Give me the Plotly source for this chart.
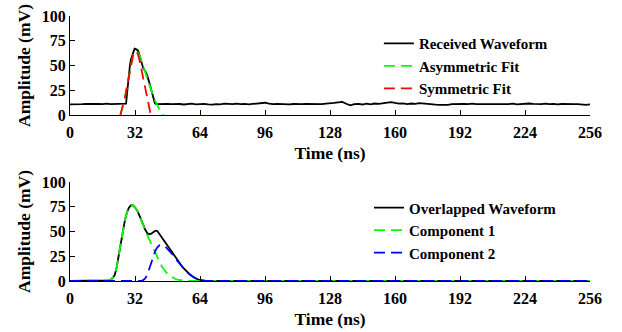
import plotly.graph_objects as go

# ---------------- Top panel data ----------------
recv_t = ([0, 2, 4, 6, 8, 10, 12, 14, 16, 18, 20, 22, 24, 26] +
          [27, 27.6, 28, 28.5, 29, 29.5, 30, 31, 31.8, 32.5, 33.5, 34, 35, 36, 37, 38, 39, 40, 41, 41.8, 42.5] +
          list(range(44, 257, 2)))
recv_v = ([10.8, 10.6, 11.0, 10.9, 11.3, 11.0, 10.7, 11.1, 11.0, 11.4, 10.9, 11.0, 11.2, 10.9] +
          [11.0, 11.5, 20, 33, 44, 50, 56, 62, 67, 66.5, 65, 62, 54, 47.5, 44.5, 40, 33, 25.5, 18, 11.8, 11.0] +
          [11.2, 10.9, 11.3, 11.0, 11.4, 11.1, 10.6, 11.2, 11.5, 10.8, 11.0, 11.3, 10.7, 10.4, 11.0, 10.8,
           11.4, 11.1, 10.9, 11.5, 11.0, 11.3, 10.8, 11.2, 11.6, 11.4, 12.4, 11.5, 11.0, 11.3, 10.9, 11.2,
           10.8, 11.1, 10.7, 10.9, 11.2, 11.0, 10.9, 11.1, 11.0, 11.4, 11.6, 12.2, 12.8, 13.2, 11.4, 9.8,
           10.9, 11.2, 10.6, 11.4, 10.8, 11.6, 11.3, 12.1, 12.4, 13.0, 12.2, 11.5, 11.8, 11.0, 11.6, 11.2,
           11.9, 11.4, 11.0, 10.8, 10.4, 10.2, 10.0, 10.3, 11.0, 11.2, 11.6, 11.3, 10.9, 11.4, 11.0, 11.1,
           10.8, 11.0, 11.2, 11.0, 11.3, 11.0, 10.9, 11.4, 10.8, 11.1, 11.0, 11.6, 11.2, 11.0, 10.9, 11.5,
           11.0, 11.3, 10.7, 11.1, 10.8, 11.2, 10.9, 11.0, 10.5, 10.3, 10.8])

asym_t = [24.8, 26, 27, 28, 29, 30, 31, 32, 33, 34, 35, 36, 37, 38, 39, 40, 41, 42, 43, 44, 45, 46]
asym_v = [0, 8.5, 17, 28, 40, 51.5, 60, 64.5, 64, 61, 56, 50, 43.5, 37, 30.5, 24.5, 19, 14, 9.5, 5.5, 2.5, 0]

sym_t = [24.8, 26, 27, 28, 29, 30, 31, 32, 33, 34, 35, 36, 37, 38, 39, 39.8]
sym_v = [0, 8.5, 17, 28, 40, 51.5, 60, 64.5, 63.5, 57.5, 47.5, 36, 24.5, 14.5, 6, 0]

# ---------------- Bottom panel data ----------------
bot_t = [0, 8] + list(range(16, 69)) + [80, 128, 192, 256]
overlap_v = [0, 0,
             0, 0.1, 0.2, 0.6, 1.3, 3, 6, 14, 26, 38, 50, 61, 69, 74, 76.5, 76.3, 74.5, 71.5, 67, 61.5,
             56.5, 52, 48.5, 47.2, 47.8, 49.5, 50.8, 50.5, 47.5, 44, 41, 38.5, 36, 33, 29.8, 26.8, 23.8,
             20.8, 18, 15.2, 12.7, 10.4, 8.4, 6.6, 5, 3.6, 2.5, 1.6, 1, 0.5, 0.3, 0.1, 0,
             0, 0, 0, 0]
comp1_v = [0, 0,
           0, 0.1, 0.2, 0.6, 1.3, 3, 6, 14, 26, 38, 50, 61, 69, 74, 76.5, 76.3, 74.5, 71.5, 67, 61.5,
           56.5, 51.5, 46.5, 42, 37.5, 32.5, 27.5, 23, 19, 15.5, 12.3, 9.5, 7.2, 5.4, 4, 2.9, 2.0,
           1.3, 0.8, 0.5, 0.3, 0.15, 0.05, 0, 0, 0, 0, 0, 0, 0, 0, 0, 0,
           0, 0, 0, 0]
comp2_v = [0, 0,
           0, 0, 0, 0, 0, 0, 0, 0, 0, 0, 0, 0, 0, 0, 0, 0, 0, 0, 0, 0,
           0.8, 2.5, 6, 12, 19, 25.5, 30.5, 34, 36, 36.4, 35.8, 34.5, 32.5, 30.5, 28, 25.5, 22.5,
           19.8, 17.2, 14.7, 12.4, 10.2, 8.3, 6.5, 5, 3.6, 2.5, 1.6, 1, 0.5, 0.3, 0.1, 0,
           0, 0, 0, 0]

x_ticks = [0, 32, 64, 96, 128, 160, 192, 224, 256]
y_ticks = [0, 25, 50, 75, 100]

FONT = "Liberation Serif, DejaVu Serif, serif"
DASH = "11px,6px"

fig = go.Figure()
fig.add_trace(go.Scatter(x=recv_t, y=recv_v, mode="lines", name="Received Waveform",
                         line=dict(color="black", width=1.8), xaxis="x", yaxis="y", legend="legend"))
fig.add_trace(go.Scatter(x=asym_t, y=asym_v, mode="lines", name="Asymmetric Fit",
                         line=dict(color="#00ff00", width=1.8, dash=DASH), xaxis="x", yaxis="y", legend="legend"))
fig.add_trace(go.Scatter(x=sym_t, y=sym_v, mode="lines", name="Symmetric Fit",
                         line=dict(color="#ff0000", width=1.8, dash=DASH), xaxis="x", yaxis="y", legend="legend"))

fig.add_trace(go.Scatter(x=bot_t, y=overlap_v, mode="lines", name="Overlapped Waveform",
                         line=dict(color="black", width=1.8), xaxis="x2", yaxis="y2", legend="legend2"))
fig.add_trace(go.Scatter(x=bot_t, y=comp1_v, mode="lines", name="Component 1",
                         line=dict(color="#00ff00", width=1.8, dash=DASH), xaxis="x2", yaxis="y2", legend="legend2"))
fig.add_trace(go.Scatter(x=bot_t, y=comp2_v, mode="lines", name="Component 2",
                         line=dict(color="#0000ff", width=1.8, dash=DASH), xaxis="x2", yaxis="y2", legend="legend2"))

tickfont = dict(family=FONT, size=16, color="black", weight=700)
titlefont = dict(family=FONT, size=17.5, color="black", weight=700)

def xaxis_cfg(anchor):
    return dict(range=[0, 256], tickmode="array", tickvals=x_ticks, ticks="inside", ticklen=5,
                tickwidth=1, tickcolor="black", showline=True, linecolor="black", linewidth=1.2,
                showgrid=False, zeroline=False, tickfont=tickfont, anchor=anchor, automargin=False,
                ticklabelstandoff=3, ticklabeloverflow="allow",
                title=dict(text="Time (ns)", font=titlefont, standoff=6))

def yaxis_cfg(anchor, domain):
    return dict(range=[0, 100], tickmode="array", tickvals=y_ticks, ticks="inside", ticklen=5,
                tickwidth=1, tickcolor="black", showline=True, linecolor="black", linewidth=1.2,
                showgrid=False, zeroline=False, tickfont=tickfont, anchor=anchor, domain=domain,
                automargin=False, ticklabeloverflow="allow",
                title=dict(text="Amplitude (mV)", font=titlefont, standoff=6))

legfont = dict(family=FONT, size=15, color="black", weight=700)

fig.update_layout(
    width=622, height=332,
    font=dict(family=FONT, color="black"),
    margin=dict(l=70, r=32, t=16, b=51, autoexpand=False),
    paper_bgcolor="white", plot_bgcolor="white",
    xaxis=xaxis_cfg("y"),
    yaxis=yaxis_cfg("x", [0.6264, 1.0]),
    xaxis2=xaxis_cfg("y2"),
    yaxis2=yaxis_cfg("x2", [0.0, 0.3736]),
    legend=dict(x=0.594, y=0.958, xanchor="left", yanchor="top", font=legfont,
                bgcolor="rgba(0,0,0,0)", tracegroupgap=0),
    legend2=dict(x=0.575, y=0.338, xanchor="left", yanchor="top", font=legfont,
                 bgcolor="rgba(0,0,0,0)", tracegroupgap=0),
    showlegend=True,
)

# remove the browser's default 8px body margin so the figure sits at the page origin
fig.write_html("out.html", config={"displayModeBar": False},
               post_script="document.body.style.margin='0';")
